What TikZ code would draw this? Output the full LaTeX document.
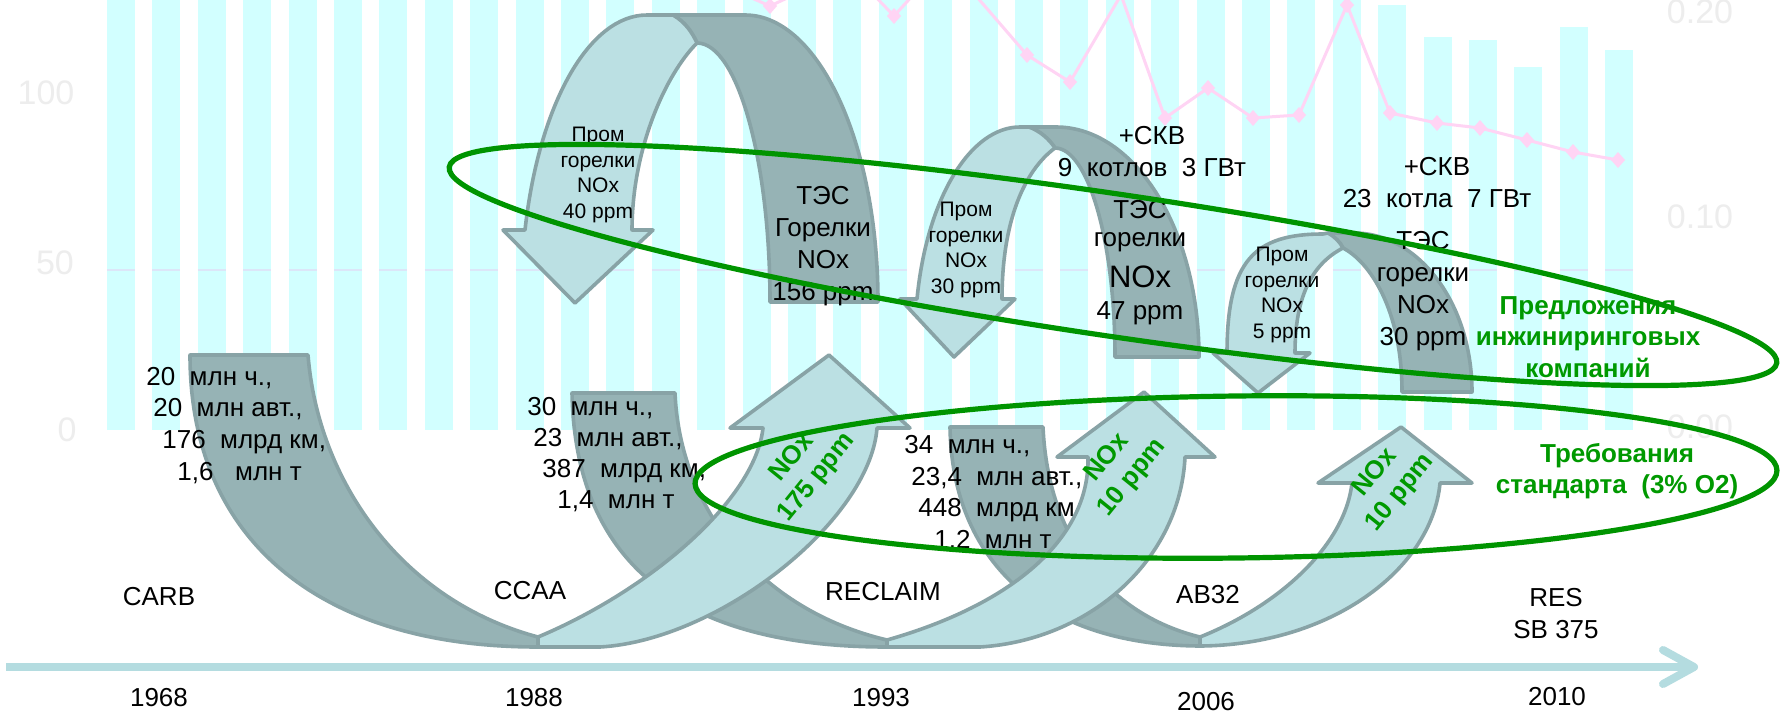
\documentclass[tikz,border=0pt]{standalone}
\usepackage{fontspec}
\setmainfont{Liberation Sans}
\definecolor{lightfill}{RGB}{187,224,227}
\definecolor{darkfill}{RGB}{150,179,181}
\definecolor{bandline}{RGB}{136,163,166}
\definecolor{ringgreen}{RGB}{0,148,0}
\definecolor{txtgreen}{RGB}{0,153,0}
\definecolor{barcyan}{RGB}{210,255,255}
\definecolor{timeline}{RGB}{180,220,224}
\definecolor{pinkline}{RGB}{255,212,244}
\definecolor{gridc}{RGB}{220,230,248}
\begin{document}
\begin{tikzpicture}[x=0.5pt,y=-0.5pt,
  band/.style={draw=bandline, line width=1.8pt, line join=round},
  darkband/.style={band, fill=darkfill},
  lightband/.style={band, fill=lightfill},
  ring/.style={draw=ringgreen, line width=2.6pt},
  lbl/.style={font=\fontsize{13}{16}\selectfont, inner sep=0pt, align=center},
  stat/.style={font=\fontsize{13}{16}\selectfont, anchor=base west, inner sep=0pt},
  prom/.style={font=\fontsize{10.5}{12.7}\selectfont, align=center, inner sep=0pt},
  tes/.style={font=\fontsize{13}{16}\selectfont, align=center, inner sep=0pt},
  bignox/.style={font=\fontsize{15.5}{18}\selectfont, inner sep=0pt},
  gtxt/.style={font=\bfseries\fontsize{13}{15.7}\selectfont, text=txtgreen, align=center, inner sep=0pt},
  nox/.style={gtxt, rotate=51},
  bar/.style={fill=barcyan, draw=none},
  axlbl/.style={font=\fontsize{17}{20}\selectfont, text=black!7, inner sep=0pt},
  pinkmark/.style={fill=pinkline, draw=none},
]
\useasboundingbox (0,0) rectangle (1783,713);
\fill[white] (0,0) rectangle (1783,713);

% ---------- faint background chart ----------
\begin{scope}
\clip (0,0) rectangle (1783,713);
\foreach \i in {0,...,27} \path[bar] ({107+45.4*\i},0) rectangle ({135+45.4*\i},430);
\foreach \i/\bt in {28/5,29/37,30/40,31/67,32/27,33/50}
  \path[bar] ({107+45.4*\i},\bt) rectangle ({135+45.4*\i},430);
\draw[gridc, line width=1pt, dash pattern=on 14pt off 8.7pt] (107,270) -- (1640,270);
\draw[pinkline, line width=1.5pt, line join=round] plot coordinates {
  (738,-8) (770,6) (800,-8) (850,-30) (894,16) (945,-40) (1027,55) (1070,82)
  (1121,-5) (1165,118) (1208,88) (1253,118) (1299,115) (1347,5) (1390,113)
  (1437,123) (1480,128) (1527,140) (1573,152) (1618,160)};
\foreach \p in {(770,6),(894,16),(1027,55),(1070,82),(1165,118),(1208,88),(1253,118),(1299,115),(1347,5),(1390,113),(1437,123),(1480,128),(1527,140),(1573,152),(1618,160)}
  \path[pinkmark] \p +(0,-8) -- +(7,0) -- +(0,8) -- +(-7,0) -- cycle;
\node[axlbl] (ax100) at (46,93) {100};
\node[axlbl] (ax50) at (55,263) {50};
\node[axlbl] (ax0) at (67,430) {0};
\node[axlbl] (ax020) at (1700,12) {0.20};
\node[axlbl] (ax010) at (1700,217) {0.10};
\node[axlbl] (ax000) at (1700,427) {0.00};
\end{scope}

% ---------- time axis ----------
\draw[timeline, line width=4pt] (6,667) -- (1688,667);
\draw[timeline, line width=4pt, line cap=round, line join=round] (1663,650) -- (1694,667) -- (1663,684);

% ---------- lower U-arrows: back (dark) parts ----------
\path[darkband] (190,355) -- (308,355) .. controls (318,480) and (400,600) .. (538,637)
  -- (538,647) .. controls (320,647) and (190,540) .. (190,355) -- cycle;
\path[darkband] (572,393) -- (675,393) .. controls (680,510) and (760,610) .. (887,640)
  -- (887,647) .. controls (660,647) and (575,545) .. (572,393) -- cycle;
\path[darkband] (950,427) -- (1043,427) .. controls (1048,540) and (1110,615) .. (1200,637)
  -- (1200,646) .. controls (1040,645) and (952,560) .. (950,427) -- cycle;

% ---------- lower U-arrows: front (light) parts ----------
\path[lightband] (538,637) .. controls (650,590) and (755,500) .. (763,428) -- (730,428) -- (829,355)
  -- (910,428) -- (877,428) .. controls (870,520) and (720,640) .. (600,647) -- (538,647) -- cycle;
\path[lightband] (887,640) .. controls (1010,605) and (1090,540) .. (1088,457) -- (1057,457) -- (1144,392)
  -- (1215,457) -- (1185,457) .. controls (1180,560) and (1090,640) .. (980,647) -- (887,647) -- cycle;
\path[lightband] (1200,637) .. controls (1280,605) and (1345,545) .. (1352,483) -- (1318,483) -- (1401,427)
  -- (1472,483) -- (1440,483) .. controls (1432,570) and (1330,645) .. (1200,646) -- cycle;

% ---------- upper arcs: dark parts ----------
\path[darkband] (673,15) -- (745,15) .. controls (818.5,15) and (878,143.5) .. (878,302) -- (770,302)
  .. controls (770,159) and (737,43) .. (697,43) .. controls (692,32) and (685,22) .. (673,15) -- cycle;
\path[darkband] (1029,127) -- (1056,127) .. controls (1135,127) and (1199,230) .. (1199,357) -- (1115,357)
  .. controls (1115,241.6) and (1088,148) .. (1055,148) .. controls (1049,139) and (1040,131) .. (1029,127) -- cycle;
\path[darkband] (1328,233) -- (1354,233) .. controls (1419,233) and (1472,304) .. (1472,392) -- (1402,392)
  .. controls (1402,310) and (1370,262) .. (1343,248) .. controls (1340,242) and (1335,237) .. (1328,233) -- cycle;

% ---------- upper arcs: light parts with down arrowheads ----------
\path[lightband] (525,230) .. controls (539,104) and (589,15) .. (647,15) -- (673,15)
  .. controls (685,22) and (692,32) .. (697,43) .. controls (665,75) and (632,150) .. (632,230)
  -- (653,230) -- (575,303) -- (503,230) -- cycle;
\path[lightband] (917,299) .. controls (926.6,199.2) and (969.9,127) .. (1020,127) -- (1029,127)
  .. controls (1040,131) and (1049,139) .. (1055,148) .. controls (1025,170) and (1002,220) .. (1002,299)
  -- (1015,299) -- (954,357) -- (900,299) -- cycle;
\path[lightband] (1227,353) .. controls (1227,260) and (1255,234) .. (1323,234) -- (1328,233)
  .. controls (1335,237) and (1340,242) .. (1343,248) .. controls (1310,265) and (1295,300) .. (1295,353)
  -- (1310,353) -- (1258,393) -- (1213,353) -- cycle;

% ---------- labels on the time axis ----------
\node[lbl] (carb) at (159,597) {CARB};
\node[lbl] (ccaa) at (530,591) {CCAA};
\node[lbl] (reclaim) at (883,592) {RECLAIM};
\node[lbl] (ab32) at (1208,595) {AB32};
\node[lbl] (res) at (1556,614) {RES\\SB 375};
\node[lbl] (y1968) at (159,698) {1968};
\node[lbl] (y1988) at (534,698) {1988};
\node[lbl] (y1993) at (881,698) {1993};
\node[lbl] (y2006) at (1206,702) {2006};
\node[lbl] (y2010) at (1557,697) {2010};

% ---------- statistics ----------
\node[stat] (s1a) at (146,385) {20~~млн ч.,};
\node[stat] (s1b) at (153,416) {20~~млн авт.,};
\node[stat] (s1c) at (162,448) {176~~млрд км,};
\node[stat] (s1d) at (177,480) {1,6~~~млн т};
\node[stat] (s2a) at (527,415) {30~~млн ч.,};
\node[stat] (s2b) at (533,446) {23~~млн авт.,};
\node[stat] (s2c) at (542,477) {387~~млрд км,};
\node[stat] (s2d) at (557,508) {1,4~~млн т};
\node[stat] (s3a) at (904,453) {34~~млн ч.,};
\node[stat] (s3b) at (911,485) {23,4~~млн авт.,};
\node[stat] (s3c) at (918,516) {448~~млрд км};
\node[stat] (s3d) at (934,548) {1,2~~млн т};

% ---------- upper texts ----------
\node[prom] (promA) at (598,175) {Пром\\горелки\\NOx\\40 ppm};
\node[tes] (tesA) at (823,246) {ТЭС\\Горелки\\NOx\\156 ppm};
\node[prom] (promB) at (966,250) {Пром\\горелки\\NOx\\30 ppm};
\node[lbl] (skvB) at (1152,152) {+СКВ\\9~~котлов~~3 ГВт};
\node[tes] (tesB1) at (1140,210) {ТЭС};
\node[tes] (tesB2) at (1140,242) {горелки};
\node[bignox] (tesB3) at (1140,277) {NOx};
\node[tes] (tesB4) at (1140,313) {47 ppm};
\node[prom] (promC) at (1282,295) {Пром\\горелки\\NOx\\5 ppm};
\node[lbl] (skvC) at (1437,183) {+СКВ\\23~~котла~~7 ГВт};
\node[tes] (tesC) at (1423,291) {ТЭС\\горелки\\NOx\\30 ppm};

% ---------- green texts ----------
\node[nox] (nox1) at (805,468) {NOx\\175 ppm};
\node[nox] (nox2) at (1120,468) {NOx\\10 ppm};
\node[nox] (nox3) at (1388,483) {NOx\\10 ppm};
\node[gtxt] (pred) at (1588,337) {Предложения\\инжиниринговых\\компаний};
\node[gtxt] (treb) at (1617,471) {Требования\\стандарта~~(3\% O2)};

% ---------- green rings ----------
\draw[ring, rotate around={-8.4:(1113,265)}] (1113,265) ellipse [x radius=335.5pt, y radius=35.5pt];
\draw[ring, rotate around={0.7:(1236,477)}] (1236,477) ellipse [x radius=270.5pt, y radius=40.5pt];
\end{tikzpicture}
\end{document}
